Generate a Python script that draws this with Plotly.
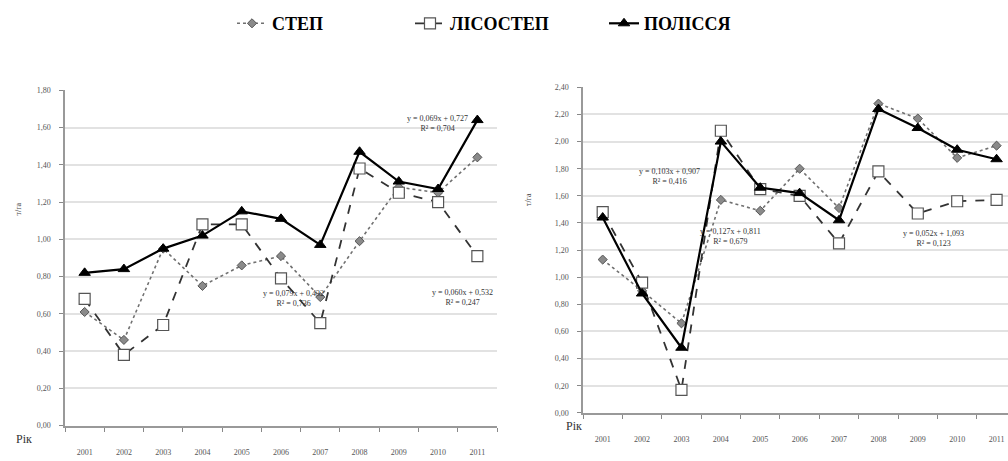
import plotly.graph_objects as go

years = ["2001", "2002", "2003", "2004", "2005", "2006", "2007", "2008", "2009", "2010", "2011"]

# Left chart
step_left = [0.61, 0.46, 0.95, 0.75, 0.86, 0.91, 0.69, 0.99, 1.28, 1.25, 1.44]
lisostep_left = [0.68, 0.38, 0.54, 1.08, 1.08, 0.79, 0.55, 1.38, 1.25, 1.20, 0.91]
polissya_left = [0.82, 0.84, 0.95, 1.02, 1.15, 1.11, 0.97, 1.47, 1.31, 1.27, 1.64]

# Right chart
step_right = [1.13, 0.90, 0.66, 1.57, 1.49, 1.80, 1.51, 2.28, 2.17, 1.88, 1.97]
lisostep_right = [1.48, 0.96, 0.17, 2.08, 1.65, 1.60, 1.25, 1.78, 1.47, 1.56, 1.57]
polissya_right = [1.44, 0.88, 0.48, 2.00, 1.66, 1.62, 1.42, 2.24, 2.10, 1.94, 1.87]

series_names = ["СТЕП", "ЛІСОСТЕП", "ПОЛІССЯ"]

trend_left = ["y = 0,069x + 0,727<br>R² = 0,704",
              "y = 0,079x + 0,432<br>R² = 0,736",
              "y = 0,060x + 0,532<br>R² = 0,247"]
trend_right = ["y = 0,103x + 0,907<br>R² = 0,416",
               "y = 0,127x + 0,811<br>R² = 0,679",
               "y = 0,052x + 1,093<br>R² = 0,123"]

W, H = 1008, 461

def px(x):
    return x / W

def py(y):
    return (H - y) / H

styles = [
    dict(line=dict(color="#707070", width=1.6, dash="dot"),
         marker=dict(symbol="diamond", size=7, color="#8a8a8a", line=dict(color="#555", width=1))),
    dict(line=dict(color="#333333", width=1.8, dash="dash"),
         marker=dict(symbol="square", size=11, color="white", line=dict(color="#555", width=1.2))),
    dict(line=dict(color="#000000", width=2.2, dash="solid"),
         marker=dict(symbol="triangle-up", size=10, color="#000", line=dict(color="#000", width=1))),
]

fig = go.Figure()
legends = ["legend", "legend2", "legend3"]
for i, (name, vals) in enumerate(zip(series_names, [step_left, lisostep_left, polissya_left])):
    fig.add_trace(go.Scatter(x=years, y=vals, name="<b>" + name + "</b>", mode="lines+markers",
                             xaxis="x", yaxis="y", legend=legends[i], showlegend=True,
                             **styles[i]))
for i, (name, vals) in enumerate(zip(series_names, [step_right, lisostep_right, polissya_right])):
    fig.add_trace(go.Scatter(x=years, y=vals, name=name, mode="lines+markers",
                             xaxis="x2", yaxis="y2", showlegend=False,
                             **styles[i]))

tickfont = dict(family="Liberation Serif", size=8, color="#555")
grid = "#e2e2e2"

common_x = dict(type="category", tickson="boundaries", ticks="outside", ticklen=4,
                tickcolor="#888", showline=True, linecolor="#999", linewidth=2,
                showgrid=False, tickfont=tickfont, ticklabelstandoff=18)
common_y = dict(showgrid=True, gridcolor=grid, gridwidth=1.6, ticks="outside", ticklen=4,
                tickcolor="#888", showline=True, linecolor="#999", linewidth=1.5,
                tickformat=".2f", tickfont=tickfont, zeroline=False, ticklabelstandoff=7)

fig.update_layout(
    width=W, height=H,
    margin=dict(l=0, r=0, t=0, b=0),
    paper_bgcolor="white", plot_bgcolor="white",
    separators=", ",
    xaxis=dict(domain=[px(65), px(497)], range=[-0.5, 10.5], anchor="y", **common_x),
    yaxis=dict(domain=[py(430), py(88)], range=[0, 1.8], dtick=0.2, anchor="x", **common_y),
    xaxis2=dict(domain=[px(583), 1.0], range=[-0.5, 10.29], anchor="y2", **common_x),
    yaxis2=dict(domain=[py(417), py(85)], range=[0, 2.4], dtick=0.2, anchor="x2", **common_y),
)

legfont = dict(family="Liberation Serif", size=18, color="#000")
for lg, xpos in zip(legends, [232, 410, 604]):
    fig.update_layout({lg: dict(x=px(xpos), y=py(20), xanchor="left", yanchor="middle",
                                orientation="h", font=legfont, bgcolor="rgba(0,0,0,0)",
                                itemwidth=30)})

annfont = dict(family="Liberation Serif", size=8, color="#333")
ann = []
for text, (x, y) in zip(trend_left, [(437, 110), (261, 312), (462, 299)]):
    ann.append(dict(text=text, x=px(x), y=py(y), xref="paper", yref="paper",
                    showarrow=False, font=annfont, align="center"))
for text, (x, y) in zip(trend_right, [(669, 176), (763, 237), (966, 239)]):
    ann.append(dict(text=text, x=px(x), y=py(y), xref="paper", yref="paper",
                    showarrow=False, font=annfont, align="center"))
# axis titles
for x, y in [(12, 209), (528, 200)]:
    ann.append(dict(text="т/га", x=px(x), y=py(y), xref="paper", yref="paper",
                    showarrow=False, textangle=-90,
                    font=dict(family="Liberation Serif", size=8, color="#444")))
for x, y in [(14, 453), (574, 440)]:
    ann.append(dict(text="Рік", x=px(x), y=py(y), xref="paper", yref="paper",
                    showarrow=False,
                    font=dict(family="Liberation Serif", size=12, color="#333")))
fig.update_layout(annotations=ann)

fig.write_html("out.html", config={"displayModeBar": False})

# remove default body margin so the figure fills the window exactly
with open("out.html", "r", encoding="utf-8") as f:
    html = f.read()
html = html.replace("<body>", "<body style=\"margin:0;padding:0;overflow:hidden\">", 1)
with open("out.html", "w", encoding="utf-8") as f:
    f.write(html)
